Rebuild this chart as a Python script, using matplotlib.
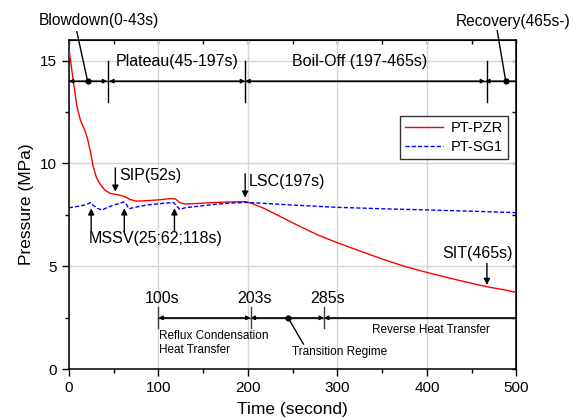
import matplotlib
matplotlib.use("Agg")
import matplotlib.pyplot as plt
import numpy as np

plt.rcParams['font.family'] = ['Liberation Sans', 'DejaVu Sans']

# ---------------- data ----------------
time_pzr = [0, 2, 5, 9, 13, 18, 21, 24, 27, 31, 35, 40, 46, 52, 58, 63, 68, 75, 90, 102,
            114, 119, 124, 130, 145, 160, 180, 197, 205, 218, 235, 255, 277, 300, 325,
            348, 375, 404, 435, 467, 485, 500]
pt_pzr = [15.6, 15.0, 14.0, 12.8, 12.1, 11.6, 11.2, 10.6, 9.9, 9.3, 9.0, 8.72, 8.55, 8.5,
          8.45, 8.38, 8.26, 8.17, 8.2, 8.24, 8.3, 8.28, 8.1, 8.03, 8.06, 8.1, 8.13, 8.15,
          8.05, 7.82, 7.45, 7.01, 6.55, 6.15, 5.75, 5.39, 5.0, 4.66, 4.33, 4.01, 3.87, 3.74]

time_sg1 = [0, 12, 20, 24, 27, 32, 37, 44, 50, 56, 61, 64, 67, 75, 87, 100, 110, 117, 119,
            124, 130, 140, 160, 177, 199, 250, 300, 350, 404, 450, 500]
pt_sg1 = [7.85, 7.93, 8.0, 8.1, 7.98, 7.82, 7.74, 7.88, 7.98, 8.05, 8.13, 8.05, 7.8, 7.88,
          7.98, 8.04, 8.08, 8.11, 8.0, 7.77, 7.85, 7.9, 8.0, 8.07, 8.11, 7.98, 7.87, 7.8,
          7.74, 7.68, 7.61]

series_labels = ['PT-PZR', 'PT-SG1']

# phase boundaries (s)
phase_top = [0, 43, 45, 197, 465, 500]
phase_top_labels = ['Blowdown(0-43s)', 'Plateau(45-197s)', 'Boil-Off (197-465s)', 'Recovery(465s-)']
phase_bot = [100, 203, 285, 500]
phase_bot_labels = ['100s', '203s', '285s']
mssv_times = [25, 62, 118]
sip_time = 52
lsc_time = 197
sit_time = 465

# ---------------- figure ----------------
fig = plt.figure(figsize=(5.79, 4.18), dpi=100)
ax = fig.add_axes([0.1188, 0.1165, 0.7732, 0.7878])

ax.plot(time_pzr, pt_pzr, color='#ff0000', lw=1.0, label=series_labels[0], zorder=3)
ax.plot(time_sg1, pt_sg1, color='#0000ff', lw=1.0, ls=(0, (3, 1.5)), label=series_labels[1], zorder=3)

ax.set_xlim(0, 500)
ax.set_ylim(0, 16)
ax.set_xticks([0, 100, 200, 300, 400, 500])
ax.set_xticks([50, 150, 250, 350, 450], minor=True)
ax.set_yticks([0, 5, 10, 15])
ax.set_yticks([2.5, 7.5, 12.5], minor=True)
ax.grid(True, which='major', color='#d4d4d4', lw=1.0)
ax.set_axisbelow(True)
for s in ax.spines.values():
    s.set_linewidth(1.1)
ax.tick_params(which='major', direction='out', length=5, width=1.0, labelsize=11)
ax.tick_params(which='minor', direction='out', length=3, width=1.0)

sx = ax.secondary_xaxis('top')
sx.set_xticks([0, 100, 200, 300, 400, 500])
sx.set_xticks([50, 150, 250, 350, 450], minor=True)
sx.tick_params(which='both', direction='in', length=3, width=1.0, labeltop=False)
sy = ax.secondary_yaxis('right')
sy.set_yticks([0, 5, 10, 15])
sy.set_yticks([2.5, 7.5, 12.5], minor=True)
sy.tick_params(which='both', direction='in', length=3, width=1.0, labelright=False)

ax.set_xlabel('Time (second)', fontsize=12.5, labelpad=5)
ax.set_ylabel('Pressure (MPa)', fontsize=12.5, labelpad=4)

# ---------------- top phase row ----------------
yt = 14.0
ax.plot([0, 500], [yt, yt], color='black', lw=1.0, zorder=4)
segs = [(phase_top[0], phase_top[1]), (phase_top[2], phase_top[3]), (phase_top[3], phase_top[4]),
        (phase_top[4], phase_top[5])]
for i, (a, b) in enumerate(segs):
    style = '<|-|>' if i < 3 else '<|-'
    ax.annotate('', xy=(b, yt), xytext=(a, yt),
                arrowprops=dict(arrowstyle=style, color='black', lw=1.0, mutation_scale=6,
                                shrinkA=0, shrinkB=0), zorder=4)
for xv in [44, 197, 467]:
    ax.plot([xv, xv], [13.0, 15.0], color='black', lw=1.0, zorder=4)
ax.plot([21], [yt], 'o', color='black', ms=3.5, zorder=5)
ax.plot([488], [yt], 'o', color='black', ms=3.5, zorder=5)
ax.text(121, 14.95, phase_top_labels[1], fontsize=11.5, ha='center', va='center')
ax.text(325, 14.95, phase_top_labels[2], fontsize=11.5, ha='center', va='center')
ax.text(34, 16.95, phase_top_labels[0], fontsize=11.2, ha='center', va='center')
ax.plot([9, 21], [16.4, yt], color='black', lw=1.0, clip_on=False, zorder=4)
ax.text(496, 16.9, phase_top_labels[3], fontsize=11.2, ha='center', va='center')
ax.plot([478.5, 488], [16.45, yt], color='black', lw=1.0, clip_on=False, zorder=4)

# ---------------- event arrows ----------------
arrow_kw = dict(arrowstyle='-|>', color='black', lw=1.0, mutation_scale=9, shrinkA=0, shrinkB=0)
ax.annotate('', xy=(sip_time, 8.63), xytext=(sip_time, 9.78), arrowprops=arrow_kw)
ax.text(sip_time + 4, 9.4, 'SIP(52s)', fontsize=11.5, ha='left', va='center')
ax.annotate('', xy=(lsc_time, 8.34), xytext=(lsc_time, 9.5), arrowprops=arrow_kw)
ax.text(lsc_time + 4.5, 9.12, 'LSC(197s)', fontsize=11.5, ha='left', va='center')
for t in mssv_times:
    ax.annotate('', xy=(t, 7.82), xytext=(t, 6.69), arrowprops=arrow_kw)
ax.text(22, 6.37, 'MSSV(25;62;118s)', fontsize=11.5, ha='left', va='center')
ax.annotate('', xy=(sit_time + 2, 4.1), xytext=(sit_time + 2, 5.15), arrowprops=arrow_kw)
ax.text(457, 5.64, 'SIT(465s)', fontsize=11.5, ha='center', va='center')

# ---------------- bottom phase row ----------------
yb = 2.5
gray = '#404040'
ax.plot([phase_bot[0], 500], [yb, yb], color=gray, lw=1.0, zorder=4)
bsegs = [(phase_bot[0], phase_bot[1]), (phase_bot[1], phase_bot[2]), (phase_bot[2], phase_bot[3])]
for i, (a, b) in enumerate(bsegs):
    style = '<|-|>' if i < 2 else '<|-'
    ax.annotate('', xy=(b, yb), xytext=(a, yb),
                arrowprops=dict(arrowstyle=style, color='black', lw=1.0, mutation_scale=6,
                                shrinkA=0, shrinkB=0), zorder=4)
for xv in phase_bot[:3]:
    ax.plot([xv, xv], [2.0, 3.02], color=gray, lw=1.0, zorder=4)
for xv, lab in zip(phase_bot[:3], phase_bot_labels):
    ax.text(xv + 4, 3.42, lab, fontsize=11.5, ha='center', va='center')
ax.plot([245], [yb], 'o', color='black', ms=3.5, zorder=5)
ax.plot([245, 262], [yb, 1.23], color='black', lw=1.0, zorder=4)
ax.text(249, 0.86, 'Transition Regime', fontsize=8.5, ha='left', va='center')
ax.text(101, 1.26, 'Reflux Condensation\nHeat Transfer', fontsize=8.5, ha='left',
        va='center', linespacing=1.25)
ax.text(338.5, 1.91, 'Reverse Heat Transfer', fontsize=8.5, ha='left', va='center')

# ---------------- legend ----------------
leg = ax.legend(loc='upper right', bbox_to_anchor=(0.997, 0.792), fontsize=10.5,
                frameon=True, fancybox=False, edgecolor='black', handlelength=2.6,
                borderpad=0.35, labelspacing=0.35, handletextpad=0.5)
leg.get_frame().set_linewidth(1.0)

fig.savefig('out.png', dpi=100)
